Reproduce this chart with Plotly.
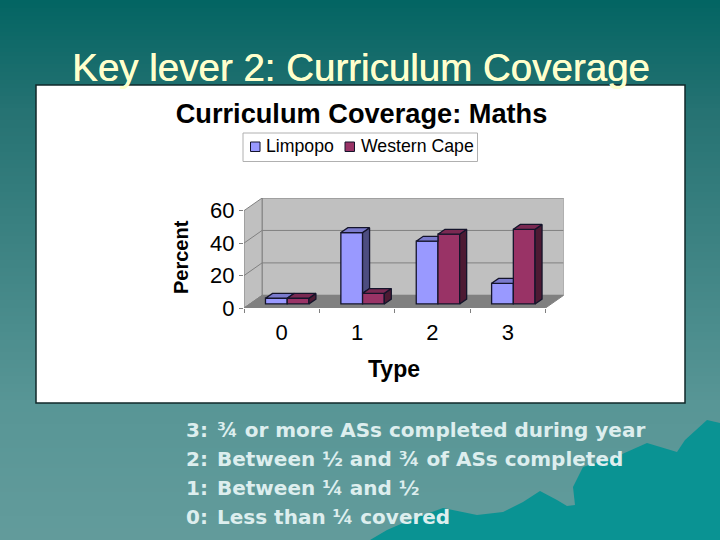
import numpy as np
import plotly.graph_objects as go

categories = [0, 1, 2, 3]
limpopo = [3.5, 44, 38.7, 12.7]
western_cape = [3.5, 6.5, 43, 46]
y_ticks = [0, 20, 40, 60]
legend_lines = [
    ("3:", "¾ or more ASs completed during year"),
    ("2:", "Between ½ and ¾ of ASs completed"),
    ("1:", "Between ¼ and ½"),
    ("0:", "Less than ¼ covered"),
]

W, H = 720, 540

# 3d look, in axis units
wall_dx = 0.24
wall_dy = 7.8
bar_w = 0.288
bar_shift = 0.073
bar_base = 2.5
bar_dx = 0.093
bar_dy = 3.0

LP = dict(front="#9999FF", side="#4D4D80", top="#7A7ACC")
WC = dict(front="#993366", side="#4D1A33", top="#7A2952")
EDGE = "#14142B"


def px_rect(x0, y0, x1, y1, **kw):
    return dict(type="rect", xref="paper", yref="paper", x0=x0 / W, x1=x1 / W,
                y0=1 - y0 / H, y1=1 - y1 / H, layer="below", **kw)


def px_text(text, x, y, size, color, family="Liberation Sans", anchor="left", weight="normal", **kw):
    font = dict(family=family, size=size, color=color, weight=weight)
    font.update(kw.pop("font", {}))
    return dict(text=text, xref="paper", yref="paper", x=x / W, y=1 - y / H, showarrow=False,
                xanchor=anchor, yanchor="middle", font=font, **kw)


def data_path(pts, fill, line="#808080", closed=True):
    d = "M" + "L".join(f"{x},{y}" for x, y in pts) + ("Z" if closed else "")
    return dict(type="path", xref="x", yref="y", path=d, fillcolor=fill,
                line=dict(color=line, width=1), layer="below")


def face(pts, color):
    xs = [p[0] for p in pts] + [pts[0][0]]
    ys = [p[1] for p in pts] + [pts[0][1]]
    return go.Scatter(x=xs, y=ys, mode="lines", fill="toself", fillcolor=color,
                      line=dict(color=EDGE, width=1.3), showlegend=False,
                      hoverinfo="skip", cliponaxis=False)


shapes = []

# slide background, each strip runs to the page bottom so no seams show
stops_y = [0, 110, 400, 540]
stops_c = np.array([[3, 101, 99], [38, 115, 115], [88, 150, 150], [99, 156, 156]])
for y in range(0, H, 4):
    c = [int(np.interp(y + 2, stops_y, stops_c[:, i])) for i in range(3)]
    shapes.append(px_rect(0, y, W, H, fillcolor=f"rgb({c[0]},{c[1]},{c[2]})", line_width=0))

# hills bottom right
hills = [(370, 540), (387, 530), (410, 520), (443, 508), (477, 515), (503, 512), (523, 502),
         (540, 491), (557, 500), (567, 506), (575, 505), (573, 487), (583, 467), (620, 455),
         (647, 443), (677, 452), (685, 440), (707, 420), (720, 423), (720, 540)]
shapes.append(dict(type="path", xref="paper", yref="paper", layer="below",
                   path="M" + "L".join(f"{x / W},{1 - y / H}" for x, y in hills) + "Z",
                   fillcolor="#0A9393", line_width=0))

# white panel
shapes.append(px_rect(36, 85, 685, 403, fillcolor="white", line=dict(color="#10282A", width=1.5)))

# legend box
shapes.append(px_rect(243, 133, 477.5, 161.5, fillcolor="white", line=dict(color="#B0B0B0", width=1)))
shapes.append(px_rect(250.5, 142, 260, 151.5, fillcolor=LP["front"], line=dict(color=EDGE, width=1)))
shapes.append(px_rect(345, 142, 354.5, 151.5, fillcolor=WC["front"], line=dict(color=EDGE, width=1)))

# walls and floor
x0, x1 = -0.5, 3.5
top = y_ticks[-1]
shapes.append(data_path([(x0 + wall_dx, 0 + wall_dy), (x1 + wall_dx, wall_dy),
                         (x1 + wall_dx, top + wall_dy), (x0 + wall_dx, top + wall_dy)], "#C0C0C0"))
shapes.append(data_path([(x0, 0), (x0 + wall_dx, wall_dy), (x0 + wall_dx, top + wall_dy), (x0, top)], "#C0C0C0"))
for t in y_ticks[1:-1]:
    shapes.append(data_path([(x0, t), (x0 + wall_dx, t + wall_dy), (x1 + wall_dx, t + wall_dy)],
                            "rgba(0,0,0,0)", closed=False))
shapes.append(data_path([(x0, 0), (x1, 0), (x1 + wall_dx, wall_dy), (x0 + wall_dx, wall_dy)], "#808080"))

fig = go.Figure()

fig.add_trace(go.Bar(x=categories, y=limpopo, base=bar_base, name="Limpopo", width=bar_w, showlegend=False,
                     offset=bar_shift - bar_w, marker=dict(color=LP["front"], line=dict(color=EDGE, width=1.3))))
fig.add_trace(go.Bar(x=categories, y=western_cape, base=bar_base, name="Western Cape", width=bar_w, showlegend=False,
                     offset=bar_shift, marker=dict(color=WC["front"], line=dict(color=EDGE, width=1.3))))

# side and top faces, drawn back to front
for c, lp, wc in zip(categories, limpopo, western_cape):
    left = c + bar_shift - bar_w
    mid = c + bar_shift
    right = mid + bar_w
    lt = bar_base + lp
    wt = bar_base + wc
    if lp > wc:
        fig.add_trace(face([(mid, wt), (mid + bar_dx, wt + bar_dy), (mid + bar_dx, lt + bar_dy), (mid, lt)], LP["side"]))
    if lp < wc:
        fig.add_trace(face([(left, lt), (mid, lt), (mid, lt + bar_dy), (left + bar_dx, lt + bar_dy)], LP["top"]))
    else:
        fig.add_trace(face([(left, lt), (mid, lt), (mid + bar_dx, lt + bar_dy), (left + bar_dx, lt + bar_dy)], LP["top"]))
    fig.add_trace(face([(right, bar_base), (right + bar_dx, bar_base + bar_dy),
                        (right + bar_dx, wt + bar_dy), (right, wt)], WC["side"]))
    fig.add_trace(face([(mid, wt), (right, wt), (right + bar_dx, wt + bar_dy), (mid + bar_dx, wt + bar_dy)], WC["top"]))

annotations = [
    px_text("Key lever 2: Curriculum Coverage", 361, 67, 38.5, "#FFFFCC", anchor="center",
            font=dict(shadow="0.5px 0 0 #FFFFCC")),
    px_text("Limpopo", 264, 146, 17.7, "black"),
    px_text("Western Cape", 359, 146, 17.7, "black"),
    px_text("<b>Type</b>", 394, 369, 23, "black", anchor="center"),
    px_text("<b>Percent</b>", 181, 257, 20, "black", anchor="center", textangle=-90),
]
for i, (num, txt) in enumerate(legend_lines):
    y = 430 + i * 29
    annotations.append(px_text(num, 184.5, y, 20, "#DDEEEE", "DejaVu Sans", weight="bold"))
    annotations.append(px_text(txt, 215, y, 20, "#DDEEEE", "DejaVu Sans", weight="bold"))

fig.update_layout(
    width=W,
    height=H,
    margin=dict(l=0, r=0, t=0, b=0),
    paper_bgcolor="#006666",
    plot_bgcolor="rgba(0,0,0,0)",
    barmode="overlay",
    showlegend=False,
    shapes=shapes,
    annotations=annotations,
    font=dict(family="Liberation Sans", color="black"),
    title=dict(text="<b>Curriculum Coverage: Maths</b>", x=361.5 / W, y=1 - 113 / H, xanchor="center",
               yanchor="middle", font=dict(size=27.2, color="black")),
    xaxis=dict(
        domain=[244 / W, 563.6 / W],
        range=[x0, x1 + wall_dx],
        automargin=False,
        tickvals=categories,
        ticks="",
        ticklabelstandoff=9,
        showgrid=False,
        zeroline=False,
        showline=False,
        tickfont=dict(size=22),
        minor=dict(tickvals=[-0.5, 0.5, 1.5, 2.5, 3.5], ticks="outside", ticklen=4, tickcolor="#808080"),
    ),
    yaxis=dict(
        domain=[1 - 308 / H, 1 - 198 / H],
        range=[0, top + wall_dy],
        automargin=False,
        tickvals=y_ticks,
        ticks="outside",
        ticklen=4,
        tickcolor="#808080",
        showgrid=False,
        zeroline=False,
        showline=False,
        tickfont=dict(size=22),
    ),
)

fig.write_html("out.html", config=dict(displayModeBar=False),
               post_script="document.body.style.margin='0';")
